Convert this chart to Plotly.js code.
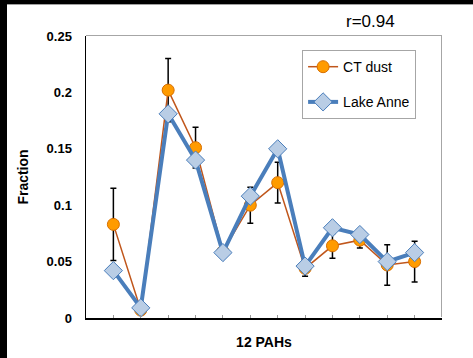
<!DOCTYPE html>
<html>
<head>
<meta charset="utf-8">
<script src="https://cdn.plot.ly/plotly-3.0.1.min.js"></script>
<style>
html,body{margin:0;padding:0;background:#000;width:473px;height:358px;overflow:hidden;}
#chart{position:absolute;left:7px;top:4px;width:466px;height:354px;background:#fff;border-top:1px solid #a0a0a0;box-sizing:border-box;}
#frame{position:absolute;left:86px;top:35px;width:356px;height:282px;border-top:1px solid #A6A6A6;border-right:1px solid #A6A6A6;box-sizing:border-box;pointer-events:none;}
</style>
</head>
<body>
<div id="chart"></div>
<div id="frame"></div>
<script>
const pahIndex = [1,2,3,4,5,6,7,8,9,10,11,12];
const ctDust = [0.083,0.007,0.202,0.151,0.059,0.100,0.120,0.044,0.064,0.069,0.047,0.050];
const ctDustErr = [0.032,0.002,0.028,0.018,0.003,0.016,0.018,0.007,0.011,0.007,0.018,0.018];
const lakeAnne = [0.042,0.009,0.181,0.140,0.058,0.108,0.150,0.046,0.080,0.074,0.050,0.058];
const yTicks = [0,0.05,0.1,0.15,0.2,0.25];
const yTickText = ['0','0.05','0.1','0.15','0.2','0.25'];

const traces = [
  {
    x: pahIndex, y: ctDust, name: 'CT dust', type: 'scatter', mode: 'lines+markers',
    legendgroup: 'a',
    line: {color: '#C0561B', width: 1.5},
    marker: {symbol: 'circle', size: 12, color: '#FF9B00', line: {color: '#D86F00', width: 1}},
    error_y: {type: 'data', array: ctDustErr, visible: true, color: '#000', thickness: 1.5, width: 3}
  },
  {
    x: pahIndex, y: lakeAnne, name: 'Lake Anne', type: 'scatter', mode: 'lines+markers',
    legendgroup: 'b',
    line: {color: '#4A7EBB', width: 4},
    marker: {symbol: 'diamond', size: 14, color: '#B9CDE5', line: {color: '#4A7EBB', width: 1}}
  }
];

const layout = {
  width: 466, height: 354,
  margin: {l: 79, r: 31, t: 31, b: 41},
  paper_bgcolor: '#fff', plot_bgcolor: '#fff',
  font: {family: 'Liberation Sans, Arial, sans-serif', color: '#000'},
  showlegend: true,
  legend: {
    x: 0.607, y: 0.95, xanchor: 'left', yanchor: 'top',
    bordercolor: '#A6A6A6', borderwidth: 1, bgcolor: '#fff',
    font: {size: 14, color: '#000'},
    traceorder: 'grouped', tracegroupgap: 14
  },
  xaxis: {
    range: [0, 13], tickvals: pahIndex, showticklabels: false,
    ticks: 'inside', ticklen: 3, tickcolor: '#999', tickwidth: 1,
    showgrid: false, zeroline: false, showline: true, linecolor: '#000', linewidth: 1.5,
    title: {text: '<b>12 PAHs</b>', font: {size: 14}, standoff: 18}
  },
  yaxis: {
    range: [0, 0.25], tickvals: yTicks, ticktext: yTickText,
    ticks: '', showgrid: false, zeroline: false, showline: true, linecolor: '#000', linewidth: 1.5,
    tickfont: {size: 13, weight: 'bold'}, ticklabelstandoff: 10,
    title: {text: '<b>Fraction</b>', font: {size: 14}, standoff: 14}
  },
  annotations: [
    {text: 'r=0.94', xref: 'paper', yref: 'paper', x: 0.798, y: 1.05,
     xanchor: 'center', yanchor: 'middle', showarrow: false, font: {size: 17, color: '#000'}}
  ]
};

Plotly.newPlot('chart', traces, layout, {displayModeBar: false, staticPlot: true});
</script>
</body>
</html>
